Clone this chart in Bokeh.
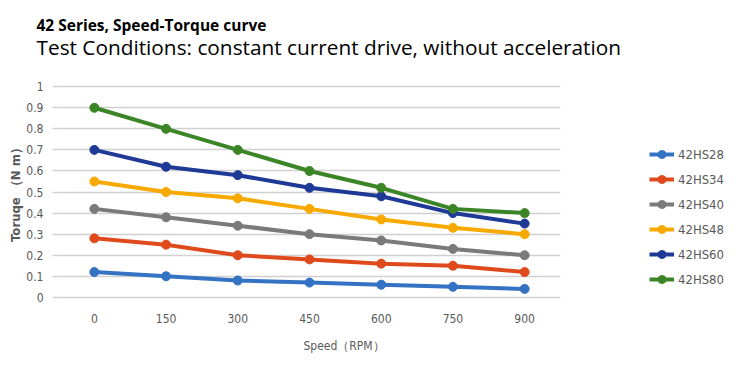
from bokeh.plotting import figure
from bokeh.models import Range1d, Title, Legend, LegendItem, FactorRange
from bokeh.embed import file_html
from bokeh.resources import INLINE

speeds = ["0", "150", "300", "450", "600", "750", "900"]
series_names = ["42HS28", "42HS34", "42HS40", "42HS48", "42HS60", "42HS80"]
hs28 = [0.12, 0.10, 0.08, 0.07, 0.06, 0.05, 0.04]
hs34 = [0.28, 0.25, 0.20, 0.18, 0.16, 0.15, 0.12]
hs40 = [0.42, 0.38, 0.34, 0.30, 0.27, 0.23, 0.20]
hs48 = [0.55, 0.50, 0.47, 0.42, 0.37, 0.33, 0.30]
hs60 = [0.70, 0.62, 0.58, 0.52, 0.48, 0.40, 0.35]
hs80 = [0.90, 0.80, 0.70, 0.60, 0.52, 0.42, 0.40]
y_ticks = [0, 0.1, 0.2, 0.3, 0.4, 0.5, 0.6, 0.7, 0.8, 0.9, 1]

series = [hs28, hs34, hs40, hs48, hs60, hs80]
colors = ["#3473c4", "#de4a1c", "#7a7a7a", "#f7a900", "#1f3a96", "#3c8527"]

p = figure(frame_width=502, frame_height=218,
           x_range=FactorRange(*speeds, range_padding=0),
           y_range=Range1d(-0.015, 1.02), output_backend="svg",
           toolbar_location=None, min_border_left=0, min_border_right=170,
           min_border_top=0, min_border_bottom=0)
p.outline_line_color = None
p.background_fill_color = "white"

items = []
for name, vals, c in zip(series_names, series, colors):
    r1 = p.line(speeds, vals, line_color=c, line_width=4)
    r2 = p.scatter(speeds, vals, size=9, fill_color=c, line_color=c)
    items.append(LegendItem(label=name, renderers=[r1, r2]))

tick_font = "DejaVu Sans Condensed"
p.xgrid.grid_line_color = None
p.ygrid.grid_line_color = "#d0d0d0"
p.ygrid.grid_line_width = 1.5
p.yaxis.ticker = y_ticks
p.yaxis.major_label_overrides = {1: "1", 0: "0"}
p.yaxis.axis_line_color = None
p.yaxis.major_tick_line_color = "#d0d0d0"
p.yaxis.major_tick_line_width = 1.5
p.yaxis.major_tick_out = 6
p.yaxis.major_tick_in = 0
p.yaxis.minor_tick_line_color = None
p.yaxis.major_label_standoff = 9
p.yaxis.axis_label = "Toruqe （N m）"
p.yaxis.axis_label_text_font = tick_font
p.yaxis.axis_label_text_font_style = "bold"
p.yaxis.axis_label_text_font_size = "13px"
p.yaxis.axis_label_text_color = "#595959"
p.yaxis.axis_label_standoff = 0
p.xaxis.axis_line_color = None
p.xaxis.major_tick_line_color = None
p.xaxis.major_label_standoff = 7
for ax in (p.xaxis, p.yaxis):
    ax.major_label_text_font = tick_font
    ax.major_label_text_font_size = "12px"
    ax.major_label_text_color = "#595959"

# left spacer
p.add_layout(Title(text=" ", text_font_size="1px", standoff=2), "left")

xt = Title(text="Speed（RPM）", align="left", offset=245, text_font=tick_font,
           text_font_size="12px", text_color="#595959", text_font_style="normal",
           standoff=23)
p.add_layout(xt, "below")

legend = Legend(items=items, location=(89, 11), border_line_color=None,
                background_fill_alpha=0, glyph_width=25, glyph_height=20,
                label_height=20, spacing=5, label_text_font=tick_font,
                label_text_font_size="13px", label_text_color="#595959",
                margin=0, padding=0, label_standoff=4)
p.add_layout(legend, "right")

# spacer between subtitle and frame
p.add_layout(Title(text=" ", text_font_size="10px", standoff=16), "above")
sub = Title(text="Test Conditions: constant current drive, without acceleration",
            align="left", offset=-22, text_font="Open Sans", text_font_size="20.8px",
            text_font_style="normal", text_color="black", standoff=-14)
p.add_layout(sub, "above")
main = Title(text="42 Series, Speed-Torque curve", align="left", offset=-22,
             text_font="Open Sans", text_font_size="15.5px", text_font_style="bold",
             text_color="black", standoff=4)
p.add_layout(main, "above")
p.add_layout(Title(text=" ", text_font_size="1px", standoff=6), "above")

open("out.html", "w").write(file_html(p, INLINE))
